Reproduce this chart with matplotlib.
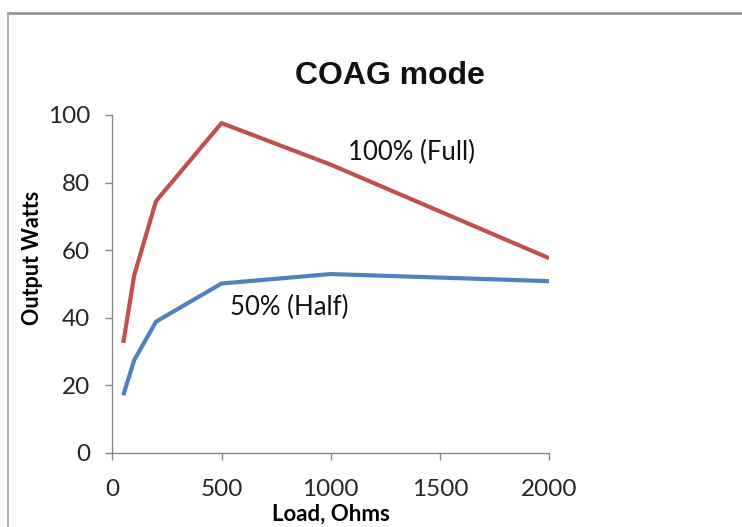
import matplotlib.pyplot as plt
from matplotlib.lines import Line2D

# Dữ liệu
load_ohms = [50, 100, 200, 500, 1000, 2000]
full_watts = [32.5, 52.5, 74.5, 97.6, 85.3, 57.6]
half_watts = [17.0, 27.4, 38.8, 50.1, 52.9, 50.8]

x_ticks = [0, 500, 1000, 1500, 2000]
y_ticks = [0, 20, 40, 60, 80, 100]

tick_font = 'Lato'
gray = '#868686'

fig = plt.figure(figsize=(7.42, 5.27), dpi=100)
ax = fig.add_axes([0.1514, 0.141, 0.5886, 0.6408])

ax.plot(load_ohms, full_watts, color='#C0504D', lw=3.0, solid_capstyle='butt')
ax.plot(load_ohms, half_watts, color='#4F81BD', lw=3.0, solid_capstyle='butt')

ax.set_xlim(0, 2000)
ax.set_ylim(0, 100)
ax.set_xticks(x_ticks)
ax.set_yticks(y_ticks)

for s in ['top', 'right']:
    ax.spines[s].set_visible(False)
for s in ['left', 'bottom']:
    ax.spines[s].set_color(gray)
    ax.spines[s].set_linewidth(1.0)

ax.tick_params(axis='both', colors=gray, length=5, width=1.0, direction='out')
ax.tick_params(axis='y', pad=11)
ax.tick_params(axis='x', pad=14)
for lab in ax.get_xticklabels() + ax.get_yticklabels():
    lab.set_fontfamily(tick_font)
    lab.set_fontsize(17.5)
    lab.set_color('#262626')

ax.set_xlabel('Load, Ohms', fontfamily=tick_font, fontweight='bold', fontsize=16)
ax.set_ylabel('Output Watts', fontfamily=tick_font, fontweight='bold', fontsize=15.5)
ax.xaxis.set_label_coords(0.5, -0.152)
ax.yaxis.set_label_coords(-0.158, 0.577)

# Chú thích trên đường
ax.text(1080, 89.0, '100% (Full)', fontfamily=tick_font, fontsize=18.5, color='#111111',
        ha='left', va='center')
ax.text(540, 43.0, '50% (Half)', fontfamily=tick_font, fontsize=18.5, color='#111111',
        ha='left', va='center')

fig.text(390 / 742, 1 - 76 / 527, 'COAG mode', fontfamily='Liberation Sans', fontweight='bold',
         fontsize=23, ha='center', va='center', color='#111111')

# Khung viền xám
fig.add_artist(Line2D([8 / 742, 1], [1 - 13 / 527, 1 - 13 / 527], color='#8a9090', lw=1.8))
fig.add_artist(Line2D([8 / 742, 8 / 742], [0, 1 - 13 / 527], color='#a0a6a6', lw=1.2))

fig.savefig('out.png', dpi=100)
